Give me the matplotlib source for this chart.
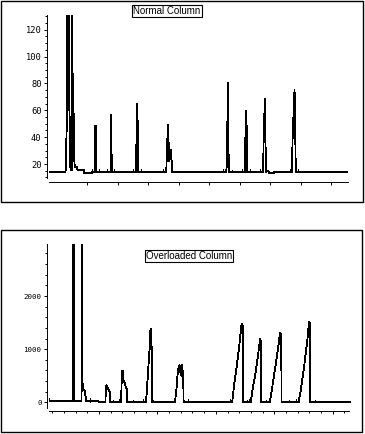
import matplotlib
matplotlib.use("Agg")
import matplotlib.pyplot as plt
from matplotlib.ticker import MultipleLocator, NullFormatter
from matplotlib.patches import Rectangle

# normal column trace (time in min, response)
top_t = [1.85, 3.21, 3.25, 3.29, 3.33, 3.37, 3.41, 3.45, 3.50, 3.54, 3.58, 3.62, 3.74, 3.77, 3.81, 3.85, 3.91,
         3.95, 3.99, 4.15, 4.19, 4.72, 4.73, 5.36, 5.37,
         5.62, 5.66, 5.69, 5.72,
         6.90, 6.94, 6.97, 6.99, 7.02,
         9.00, 9.04, 9.10, 9.13, 9.17,
         11.48, 11.52, 11.62, 11.66, 11.70, 11.80, 11.87, 11.92, 11.95,
         16.40, 16.45, 16.49, 16.54, 16.58, 16.63,
         17.93, 17.98, 18.05, 18.09, 18.13,
         19.43, 19.48, 19.58, 19.62, 19.66, 19.75, 19.85, 19.90, 19.95, 20.30, 20.32,
         21.80, 21.85, 22.01, 22.07, 22.11,
         26.40]
top_v = [14, 14, 39, 34, 132, 50, 132, 60, 132, 56, 22, 15.8, 15.8, 132, 25, 22, 57,
         20, 17.5, 17.5, 15.8, 15.8, 13.3, 13.3, 14,
         14, 48.6, 48, 14,
         14, 44.8, 56.8, 25, 14,
         14, 44, 65, 49, 14,
         14, 26.7, 49.3, 40, 22, 25, 30.7, 22, 14,
         14, 20, 44.8, 80.4, 33, 14,
         14, 41, 59.7, 40.6, 14,
         14, 42, 68.7, 41.4, 14, 15.2, 15.2, 14, 13.3, 13.3, 14,
         14, 38.9, 75.4, 44.3, 14,
         14]
top_base = 14
top_marks_t = [5.41, 5.96, 6.59, 7.22, 8.77, 9.43, 11.18, 12.06, 16.10, 16.84, 17.66, 18.35, 19.17, 21.63, 22.31]
top_marks_v = [16.5, 16, 16.5, 16, 16, 16, 16, 15, 16.5, 15.5, 16, 16, 16, 16.5, 16]

# overloaded column trace
bot_t = [0.71, 0.74, 0.75, 0.76, 2.73, 2.745, 2.80, 2.87, 2.885, 3.50, 3.517, 3.53, 3.60, 3.80, 3.886, 4.94, 4.95,
         5.55, 5.57, 5.66, 5.72, 5.80, 5.90, 5.94, 5.95,
         6.85, 6.89, 6.93, 6.97, 7.00, 7.03, 7.07, 7.12, 7.20, 7.31, 7.36, 7.37,
         9.02, 9.10, 9.23, 9.35, 9.40, 9.44, 9.47, 9.50, 9.51,
         11.50, 11.65, 11.74, 11.85, 11.89, 11.95, 12.00, 12.05, 12.10, 12.14, 12.18, 12.20, 12.24,
         16.40, 16.55, 16.80, 17.00, 17.18, 17.22, 17.27, 17.30, 17.31,
         18.00, 18.10, 18.40, 18.65, 18.77, 18.80, 18.86, 18.89,
         19.62, 19.75, 20.05, 20.35, 20.48, 20.52, 20.60, 20.63,
         22.09, 22.25, 22.55, 22.85, 22.97, 23.00, 23.04, 23.06,
         26.55]
bot_v = [20, 20, 60, 20, 20, 3100, 3050, 2784, 20, 20, 3100, 690, 270, 200, 20, 20, 0,
         0, 314, 320, 280, 250, 200, 200, 0,
         0, 30, 390, 590, 470, 590, 420, 390, 357, 263, 263, 0,
         0, 250, 700, 1070, 1373, 1100, 1380, 1000, 0,
         0, 300, 577, 680, 700, 560, 690, 500, 700, 670, 300, 600, 0,
         0, 300, 700, 1050, 1430, 1480, 1460, 1440, 0,
         0, 180, 560, 950, 1150, 1190, 1150, 0,
         0, 170, 600, 1050, 1280, 1310, 1270, 0,
         0, 200, 650, 1200, 1480, 1520, 1500, 0,
         0]
bot_base = 0
bot_marks_t = [4.26, 5.51, 6.23, 6.74, 7.89, 8.74, 9.66, 12.6, 16.17, 17.66, 17.83, 19.29, 19.6, 21.23, 21.86, 23.51]
bot_marks_v = [80, 60, 50, 60, 50, 60, 50, 60, 60, 50, 60, 50, 60, 50, 60, 50]

top_yticks = [20, 40, 60, 80, 100, 120]
bot_yticks = [0, 1000, 2000]
top_xticks = [5, 7.5, 10, 12.5, 15, 17.5, 20, 22.5, 25]
bot_xticks = [5, 10, 15, 20, 25]

W, H = 365, 434
fig = plt.figure(figsize=(W / 100, H / 100), dpi=100)

# outer frames
fig.patches.append(Rectangle((1 / W, 1 - 202 / H), 362 / W, 201 / H, transform=fig.transFigure,
                             fill=False, ec="black", lw=1.0))
fig.patches.append(Rectangle((1 / W, 1 - 432.3 / H), 360.7 / W, 202.3 / H, transform=fig.transFigure,
                             fill=False, ec="black", lw=1.0))


def style_axis(ax, ylabels_size):
    ax.spines["top"].set_visible(False)
    ax.spines["right"].set_visible(False)
    ax.spines["left"].set_position(("outward", 1.4))
    for s in ("left", "bottom"):
        ax.spines[s].set_linewidth(0.7)
    ax.tick_params(axis="both", which="major", direction="out", length=2.2, width=0.7, pad=1.8,
                   labelsize=ylabels_size)
    ax.tick_params(axis="both", which="minor", direction="out", length=1.1, width=0.7)
    ax.xaxis.set_major_formatter(NullFormatter())
    for lab in ax.get_yticklabels():
        lab.set_family("DejaVu Sans Mono")
    ax.patch.set_visible(False)


# top panel
ax1 = fig.add_axes([49 / W, 1 - 178 / H, 299 / W, 163 / H])
ax1.plot(top_t, top_v, color="black", lw=0.6, antialiased=False)
ax1.vlines(top_marks_t, top_base, top_marks_v, color="black", lw=0.6, antialiased=False)
ax1.set_xlim(1.85, 26.4)
ax1.set_ylim(9.6, 131)
ax1.set_yticks(top_yticks)
ax1.set_yticklabels([str(v) for v in top_yticks])
ax1.yaxis.set_minor_locator(MultipleLocator(5))
ax1.set_xticks(top_xticks)
ax1.spines["bottom"].set_position(("outward", 2.9))
style_axis(ax1, 6.3)

fig.text(167 / W, 1 - 11 / H, "Normal Column", ha="center", va="center", fontsize=7,
         family="Liberation Sans",
         bbox=dict(boxstyle="square,pad=0.12", fc="white", ec="black", lw=0.8))

# bottom panel
ax2 = fig.add_axes([49 / W, 1 - 407.7 / H, 301.7 / W, 163.4 / H])
ax2.plot(bot_t, bot_v, color="black", lw=0.6, antialiased=False)
ax2.vlines(bot_marks_t, bot_base, bot_marks_v, color="black", lw=0.6, antialiased=False)
ax2.set_xlim(0.71, 26.55)
ax2.set_ylim(-100, 2972)
ax2.set_yticks(bot_yticks)
ax2.set_yticklabels([str(v) for v in bot_yticks])
ax2.yaxis.set_minor_locator(MultipleLocator(200))
ax2.set_xticks(bot_xticks)
ax2.xaxis.set_minor_locator(MultipleLocator(1))
ax2.spines["bottom"].set_position(("outward", 2.4))
ax2.spines["bottom"].set_bounds(0.71, 26.4)
style_axis(ax2, 5.4)

fig.text(189 / W, 1 - 256 / H, "Overloaded Column", ha="center", va="center", fontsize=7,
         family="Liberation Sans",
         bbox=dict(boxstyle="square,pad=0.12", fc="white", ec="black", lw=0.8))

fig.savefig("out.png", dpi=100)
